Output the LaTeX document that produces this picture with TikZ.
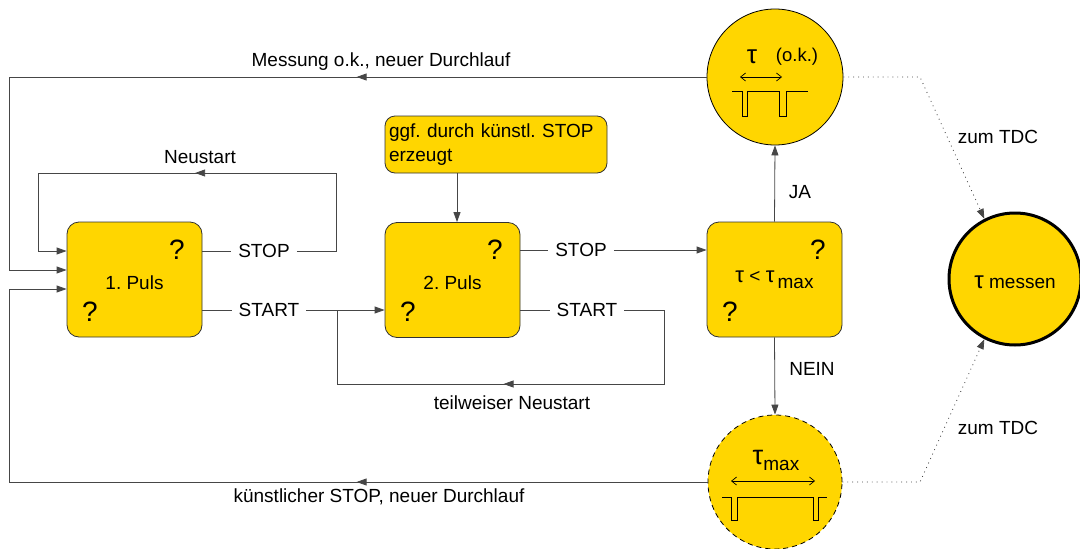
\documentclass[tikz,border=0pt]{standalone}
\usepackage{fontspec}
\setmainfont{Liberation Sans}
\usetikzlibrary{arrows.meta,decorations.markings}
\definecolor{gold}{RGB}{255,214,0}
\definecolor{edge}{RGB}{50,50,50}
\definecolor{wire}{RGB}{70,70,70}
\newcommand\bigtau[1][23]{{\fontsize{#1}{#1}\selectfont τ}}
\newcommand\lowered[1]{\raisebox{-3pt}[\height][\depth]{#1}}

\begin{document}
\frenchspacing
\begin{tikzpicture}[x=1pt,y=-1pt,
  font=\fontsize{19}{23}\selectfont,
  box/.style={draw=edge,fill=gold,rounded corners=12pt,minimum width=135pt,
    minimum height=115pt,inner sep=0pt,line width=0.8pt},
  conn/.style={draw=wire,line width=0.8pt},
  arr/.style={conn,-{Triangle[length=10pt,width=7pt]}},
  lbl/.style={inner xsep=7pt,inner ysep=0pt},
  plain/.style={inner sep=0pt},
  midarrow/.style={postaction={decorate,decoration={markings,
    mark=at position #1 with {\arrow{Triangle[length=10pt,width=7pt]}}}}},
  qm/.style={font=\fontsize{28}{28}\selectfont,inner sep=0pt},
  ring/.style={circle,draw=black,fill=gold,inner sep=0pt,line width=0.8pt},
  pulse/.style={draw=black,line width=0.8pt},
  span/.style={draw=black,line width=0.7pt,{Straight Barb[length=5pt,width=8pt]}-{Straight Barb[length=5pt,width=8pt]}},
  tdc/.style={draw=wire,line width=0.8pt,dash pattern=on 0.9pt off 4pt,
    -{Triangle[length=10pt,width=7pt]}}
]
\useasboundingbox (0,0) rectangle (1080,549);

% levels of the feedback lines entering the first box
\coordinate (lvN) at (0,251);
\coordinate (lvM) at (0,270);
\coordinate (lvK) at (0,289);

% decision boxes
\node[box] (p1) at (134.5,279.5) {\lowered{1. Puls}};
\node[qm] (q1a) at (177,250) {?};
\node[qm] (q1b) at (90,312) {?};

\node[box] (p2) at (452.5,280) {\lowered{2. Puls}};
\node[qm] (q2a) at (495,250) {?};
\node[qm] (q2b) at (408,312) {?};

\node[box] (p3) at (774.5,279.5) {\bigtau[22] < \bigtau[22]\,\raisebox{-6pt}{max}};
\node[qm] (q3a) at (818,250) {?};
\node[qm] (q3b) at (730,312) {?};

% remark box
\node[draw=edge,fill=gold,rounded corners=10pt,line width=0.8pt,
  minimum width=222pt,minimum height=57pt,inner xsep=4pt,inner ysep=0pt,
  text width=214pt,align=left,font=\fontsize{19}{24}\selectfont]
  (note) at (496,144.5) {ggf. durch künstl. STOP\\erzeugt};

% outcome circles
\node[ring,minimum size=136pt] (T) at (775,77) {};
\node[ring,dash pattern=on 5pt off 4pt,minimum size=134pt] (B) at (775,482) {};
\node[ring,line width=3pt,minimum size=132pt] (M) at (1015,279) {\lowered{\bigtau[24]\ messen}};

% pictogram: accepted interval
\node[plain] (tauT) at (752,57) {\bigtau[26]};
\node[plain,font=\fontsize{18.5}{19}\selectfont] (okT) at (797,57) {(o.k.)};
\draw[span] (740,77) -- (782,77);
\draw[pulse] (732,91) -- (742,91) -- (742,116) -- (747,116) -- (747,91)
  -- (779,91) -- (779,116) -- (786,116) -- (786,91) -- (808,91);

% pictogram: maximal interval
\node[plain] (tauB) at (776,460) {\bigtau[27]\raisebox{-6pt}{max}};
\draw[span] (731,481) -- (815,481);
\draw[pulse] (722,497) -- (731,497) -- (731,520) -- (737,520) -- (737,497)
  -- (813,497) -- (813,520) -- (818,520) -- (818,497) -- (827,497);

% signal labels
\node[lbl] (s1) at (264,251) {STOP};
\node[lbl] (st1) at (269,310) {START};
\node[lbl] (s2) at (581,250) {STOP};
\node[lbl] (st2) at (587,310) {START};

% first pulse: stop -> restart
\draw[conn] (p1.east |- s1) -- (s1.west);
\draw[arr,midarrow=258pt] (s1.east) -- (336,251) -- (336,173) -- (38,173)
  -- (38,251) -- (p1.west |- lvN);
\node[plain] (lNeu) at (200,157) {Neustart};

% first pulse: start -> second pulse
\draw[conn] (p1.east |- st1) -- (st1.west);
\draw[arr] (st1.east) -- (p2.west |- st1);

% second pulse: start -> partial restart
\draw[conn] (p2.east |- st2) -- (st2.west);
\draw[conn,midarrow=274pt] (st2.east) -- (664,310) -- (664,384) -- (337,384)
  -- (337,310);
\node[plain] (lTeil) at (512,403) {teilweiser Neustart};

% second pulse: stop -> interval check
\draw[conn] (p2.east |- s2) -- (s2.west);
\draw[arr] (s2.east) -- (p3.west |- s2);

% remark -> second pulse
\draw[arr] ([xshift=-39pt]note.south) -- ([xshift=-39pt]note.south |- p2.north);

% interval check -> outcomes
\draw[arr] (p3.north) -- (T.south);
\node[plain] (lJa) at (800,192) {JA};
\draw[arr] (p3.south) -- (B.north);
\node[plain] (lNein) at (812,369) {NEIN};

% new runs back to the first pulse
\draw[arr,midarrow=350pt] (T.west) -- (9,77) -- (9,270) -- (p1.west |- lvM);
\node[plain] (lMess) at (381,62) {Messung o.k., neuer Durchlauf};
\draw[arr,midarrow=351pt] (B.west) -- (9,482) -- (9,289) -- (p1.west |- lvK);
\node[plain] (lKuen) at (379,497) {künstlicher STOP, neuer Durchlauf};

% hand-over to the time-to-digital converter
\draw[tdc] (T.east) -- (920,77) -- (M.117);
\node[plain] (tdc1) at (998,137) {zum TDC};
\draw[tdc] (B.east) -- (920,482) -- (M.243);
\node[plain] (tdc2) at (998,428) {zum TDC};
\end{tikzpicture}
\end{document}
